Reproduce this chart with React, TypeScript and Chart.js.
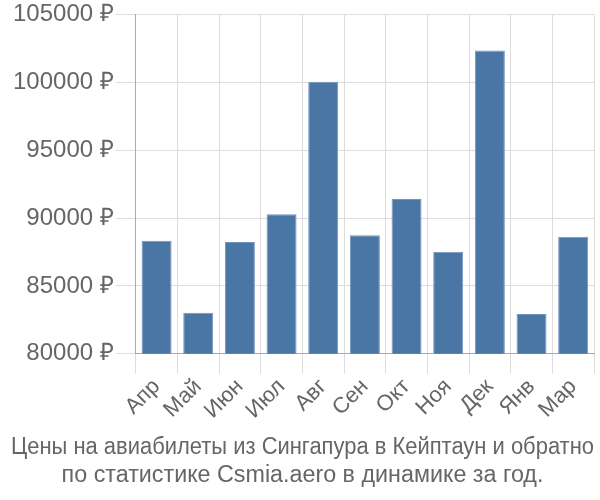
import React, { useEffect, useRef } from "react";
import { Chart, registerables } from "chart.js";

Chart.register(...registerables);

const months = ["Апр", "Май", "Июн", "Июл", "Авг", "Сен", "Окт", "Ноя", "Дек", "Янв", "Мар"];
const prices = [88340, 83020, 88240, 90290, 100050, 88730, 91410, 87530, 102360, 82930, 88630];
const yMin = 80000;
const yMax = 105000;
const yStep = 5000;
const currency = " ₽";
const titleLines = [
  "Цены на авиабилеты из Сингапура в Кейптаун и обратно",
  "по статистике Csmia.aero в динамике за год.",
];

export default function App() {
  const ref = useRef<HTMLCanvasElement | null>(null);
  useEffect(() => {
    document.body.style.margin = "0";
    const ctx = ref.current!;
    const chart = new Chart(ctx, {
      type: "bar",
      data: {
        labels: months,
        datasets: [
          {
            data: prices,
            backgroundColor: "#4a76a6",
            borderColor: "#7396c0",
            borderWidth: 1,
          },
        ],
      },
      options: {
        responsive: false,
        animation: false,
        layout: { padding: { left: 11, right: 6, top: 0, bottom: 0 } },
        plugins: {
          legend: { display: false },
          tooltip: { enabled: false },
          title: {
            display: true,
            position: "bottom",
            text: titleLines,
            color: "#666",
            font: { family: "'Liberation Sans', Arial, sans-serif", size: 23.3, weight: "normal", lineHeight: 1.2 },
            padding: { top: 10, bottom: 10 },
          },
        },
        scales: {
          x: {
            grid: { color: "#dddddd", tickLength: 20 },
            border: { color: "#aaaaaa" },
            ticks: {
              color: "#666",
              font: { family: "'Liberation Sans', Arial, sans-serif", size: 22 },
              maxRotation: 45,
              minRotation: 45,
              autoSkip: false,
              padding: 0,
            },
          },
          y: {
            min: yMin,
            max: yMax,
            grid: { color: "#dddddd", tickLength: 20 },
            border: { color: "#aaaaaa" },
            ticks: {
              stepSize: yStep,
              color: "#666",
              font: { family: "'Liberation Sans', Arial, sans-serif", size: 24, lineHeight: 1.05 },
              padding: 2,
              callback: (v: any) => v + currency,
            },
          },
        },
      },
    });
    return () => chart.destroy();
  }, []);
  return <canvas ref={ref} width={600} height={500} style={{ display: "block" }} />;
}
